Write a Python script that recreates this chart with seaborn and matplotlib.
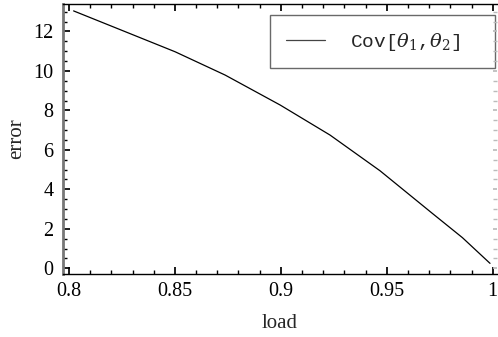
import matplotlib
matplotlib.use("Agg")
import matplotlib.pyplot as plt
from matplotlib.ticker import MultipleLocator
import seaborn as sns
import pandas as pd

# values
load = [0.8022, 0.8242, 0.8501, 0.8737, 0.8997, 0.9232, 0.9468, 0.9715, 0.9857, 0.9987]
error = [13.04, 12.09, 10.97, 9.79, 8.27, 6.75, 4.94, 2.78, 1.55, 0.25]
series_label = r"Cov[$\theta_1$,$\theta_2$]"
x_ticks = [0.8, 0.85, 0.9, 0.95, 1.0]
x_ticklabels = ["0.8", "0.85", "0.9", "0.95", "1"]

df = pd.DataFrame({"load": load, "error": error})

sns.set_theme(style="ticks")
plt.rcParams["font.family"] = ["Liberation Serif", "DejaVu Serif"]
plt.rcParams["mathtext.fontset"] = "dejavuserif"

fig = plt.figure(figsize=(4.98, 3.37), dpi=100)
ax = fig.add_axes([63 / 498, 63 / 337, (497 - 63) / 498, (274 - 4) / 337])

sns.lineplot(data=df, x="load", y="error", ax=ax, color="black", linewidth=0.9,
             label=series_label)

ax.set_xlim(0.7972, 1.002)
ax.set_ylim(-0.29, 13.39)
ax.xaxis.set_minor_locator(MultipleLocator(0.01))
ax.yaxis.set_major_locator(MultipleLocator(2))
ax.yaxis.set_minor_locator(MultipleLocator(0.5))
ax.set_xticks(x_ticks)
ax.set_xticklabels(x_ticklabels)

ax.tick_params(which="both", direction="in", top=True, labelsize=14.5, colors="black")
ax.tick_params(axis="x", which="major", length=5, pad=6)
ax.tick_params(axis="x", which="minor", length=3)
ax.tick_params(axis="y", which="major", length=5, pad=7)
ax.tick_params(axis="y", which="minor", length=3)

for s in ["top", "bottom"]:
    ax.spines[s].set_color("black")
    ax.spines[s].set_linewidth(1.0)
ax.spines["left"].set_color("#777777")
ax.spines["left"].set_linewidth(2.0)
ax.spines["right"].set_visible(False)

# faint right-hand ticks
ax2 = ax.twinx()
ax2.set_ylim(ax.get_ylim())
ax2.yaxis.set_major_locator(MultipleLocator(2))
ax2.yaxis.set_minor_locator(MultipleLocator(0.5))
ax2.tick_params(which="both", direction="in", color="#bbbbbb", labelright=False, length=3)
for s in ax2.spines.values():
    s.set_visible(False)

ax.set_xlabel("load", fontsize=15, labelpad=9)
ax.set_ylabel("error", fontsize=15, labelpad=5)

leg = ax.legend(loc="upper left", bbox_to_anchor=(0.477, 0.5, 0.5184, 0.459), mode="expand",
                frameon=True, fancybox=False,
                handlelength=2.05, handletextpad=1.25, borderpad=0.8, borderaxespad=0.0,
                prop={"family": "Liberation Mono", "size": 14})
leg.get_frame().set_edgecolor("#444444")
leg.get_frame().set_linewidth(1.0)
leg.get_lines()[0].set_color("#444444")

fig.savefig("out.png", dpi=100)
